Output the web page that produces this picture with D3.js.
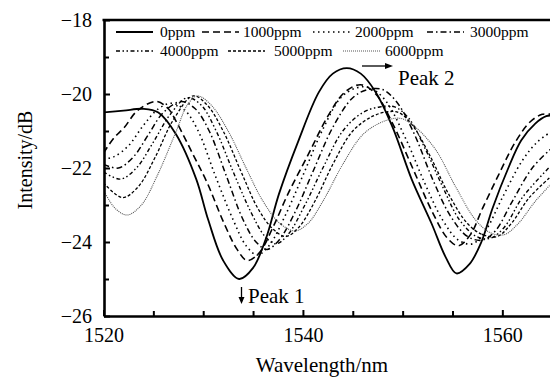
<!DOCTYPE html>
<html>
<head>
<meta charset="utf-8">
<script src="https://cdn.jsdelivr.net/npm/d3@7"></script>
<style>
  body { margin: 0; background: #fff; }
  svg { display: block; }
  text { font-family: "Liberation Serif", "Times New Roman", serif; fill: #000; }
</style>
</head>
<body>
<svg></svg>
<script>
// concentrations (legend labels)
const seriesNames = ["0ppm", "1000ppm", "2000ppm", "3000ppm", "4000ppm", "5000ppm", "6000ppm"];

// [wavelength nm, intensity dB]
const ppm0 = [[1520,-20.5],[1522,-20.45],[1524,-20.4],[1525.5,-20.5],[1527.3,-21.1],[1529.3,-22.3],[1530.5,-23.4],[1532,-24.5],[1533.6,-25.0],[1535,-24.7],[1536.3,-23.9],[1537.6,-22.7],[1539.5,-21.3],[1541.6,-19.95],[1543,-19.45],[1544.4,-19.3],[1545.8,-19.45],[1547.3,-19.95],[1549,-20.9],[1550.9,-22.3],[1552.9,-23.5],[1554.3,-24.4],[1555.4,-24.85],[1556.7,-24.6],[1557.9,-24.0],[1559,-23.1],[1560.6,-22.0],[1561.9,-21.25],[1563.3,-20.8],[1564.4,-20.6],[1565,-20.58]];
const ppm1000 = [[1520,-21.6],[1521,-21.2],[1522.1,-20.9],[1523.4,-20.45],[1525.3,-20.2],[1526.5,-20.4],[1527.4,-20.8],[1529.1,-21.7],[1530.4,-22.4],[1532.1,-23.5],[1533.4,-24.2],[1534.4,-24.5],[1535.6,-24.3],[1537,-23.6],[1538.5,-22.7],[1540.6,-21.6],[1542.5,-20.6],[1544.2,-19.95],[1545.8,-19.75],[1547.3,-20.0],[1549,-20.8],[1551,-22.0],[1553,-23.2],[1554.5,-23.9],[1555.6,-24.1],[1556.8,-23.8],[1558,-23.1],[1559.6,-22.2],[1561.3,-21.3],[1562.8,-20.75],[1564,-20.55],[1565,-20.55]];
const ppm2000 = [[1520,-21.75],[1521,-21.7],[1522.5,-21.4],[1524,-20.85],[1525.5,-20.4],[1526.9,-20.25],[1528.2,-20.45],[1529.5,-21.0],[1531.2,-22.2],[1533,-23.4],[1534.3,-24.1],[1535.4,-24.35],[1536.6,-24.1],[1538.2,-23.3],[1540,-22.2],[1542,-20.95],[1543.8,-20.1],[1545.2,-19.85],[1546.6,-19.82],[1548.2,-20.15],[1550.3,-21.2],[1552.2,-22.4],[1554,-23.4],[1555.6,-23.95],[1557,-24.05],[1558.3,-23.7],[1560,-22.8],[1562,-21.8],[1563.5,-21.3],[1565,-21.0]];
const ppm3000 = [[1520,-21.9],[1521.5,-22.0],[1523,-21.7],[1524.5,-21.1],[1526,-20.5],[1527.8,-20.2],[1529.2,-20.4],[1530.6,-21.0],[1532.3,-22.2],[1534,-23.4],[1535.3,-24.0],[1536.4,-24.2],[1537.6,-23.95],[1539.2,-23.2],[1541,-22.1],[1543,-20.9],[1545,-20.1],[1546.5,-19.88],[1548,-19.88],[1549.5,-20.25],[1551.2,-21.1],[1553,-22.3],[1554.8,-23.3],[1556.5,-23.85],[1558,-23.95],[1559.3,-23.7],[1561,-22.9],[1563,-22.0],[1565,-21.45]];
const ppm4000 = [[1520,-22.1],[1521.7,-22.3],[1523.3,-22.0],[1525,-21.3],[1526.7,-20.55],[1528.4,-20.1],[1529.8,-20.3],[1531.3,-21.0],[1533,-22.1],[1534.8,-23.2],[1536.2,-23.85],[1537.3,-24.05],[1538.5,-23.8],[1540.2,-23.0],[1542,-22.0],[1544,-21.0],[1546,-20.5],[1547.7,-20.35],[1549.2,-20.35],[1550.6,-20.65],[1552.3,-21.5],[1554,-22.5],[1555.7,-23.4],[1557.4,-23.85],[1558.8,-23.9],[1560.2,-23.6],[1562,-22.8],[1565,-21.9]];
const ppm5000 = [[1520,-22.4],[1521.9,-22.8],[1523.5,-22.5],[1525.2,-21.7],[1527,-20.7],[1529,-20.05],[1530.4,-20.3],[1532,-21.0],[1533.8,-22.1],[1535.5,-23.1],[1537,-23.65],[1538.3,-23.85],[1539.6,-23.6],[1541.2,-22.9],[1543,-21.9],[1545,-21.0],[1547,-20.6],[1548.5,-20.48],[1549.6,-20.5],[1551,-20.85],[1552.8,-21.7],[1554.6,-22.7],[1556.5,-23.5],[1558,-23.8],[1559.5,-23.85],[1560.9,-23.5],[1562.7,-22.8],[1565,-22.2]];
const ppm6000 = [[1520,-22.6],[1521.2,-23.1],[1522.4,-23.27],[1523.8,-23.0],[1525.4,-22.2],[1527.3,-21.0],[1528.4,-20.3],[1529.4,-20.05],[1530.8,-20.3],[1532.5,-21.0],[1534.3,-22.0],[1536,-22.9],[1537.7,-23.5],[1539.2,-23.7],[1540.5,-23.5],[1542,-22.9],[1544,-21.9],[1546,-21.1],[1548,-20.75],[1549.8,-20.66],[1551.3,-20.9],[1553.3,-21.5],[1555.3,-22.5],[1557.3,-23.4],[1558.8,-23.75],[1560.2,-23.8],[1561.6,-23.5],[1563.3,-22.9],[1565,-22.4]];

const xTicks = [1520, 1540, 1560];
const xMinorTicks = [1525, 1530, 1535, 1545, 1550, 1555];
const yTicks = [-18, -20, -22, -24, -26];
const yMinorTicks = [-19, -21, -23, -25];

const width = 550, height = 378;
const svg = d3.select("svg").attr("width", width).attr("height", height);

const x = d3.scaleLinear().domain([1520, 1565]).range([103.5, 552.2]);
const y = d3.scaleLinear().domain([-26, -18]).range([316, 20]);

// line styles per series
const styles = [
  {dash: null, w: 1.8, c: "#000"},
  {dash: "7,4", w: 1.6, c: "#000"},
  {dash: "1.5,3.5", w: 1.6, c: "#000"},
  {dash: "6,3,1.5,3", w: 1.5, c: "#000"},
  {dash: "4,2.5,1.5,2.5,1.5,2.5", w: 1.4, c: "#000"},
  {dash: "3,2", w: 1.3, c: "#000"},
  {dash: "1,1", w: 1.1, c: "#555"}
];

const allSeries = [ppm0, ppm1000, ppm2000, ppm3000, ppm4000, ppm5000, ppm6000];

svg.append("clipPath").attr("id", "plot")
  .append("rect").attr("x", 104).attr("y", 20).attr("width", 446).attr("height", 296);

const line = d3.line()
  .x(d => x(d[0]))
  .y(d => y(d[1]))
  .curve(d3.curveCatmullRom.alpha(0.5));

svg.append("g").attr("clip-path", "url(#plot)")
  .selectAll("path")
  .data(allSeries)
  .enter()
  .append("path")
  .attr("d", line)
  .attr("fill", "none")
  .attr("stroke", (d, i) => styles[i].c)
  .attr("stroke-width", (d, i) => styles[i].w)
  .attr("stroke-dasharray", (d, i) => styles[i].dash);

// axes, ticks pointing inward
svg.append("g").attr("transform", "translate(0,316)")
  .call(d3.axisBottom(x).tickValues(xTicks).tickSize(-6).tickSizeOuter(0).tickPadding(12).tickFormat(d3.format("d")));
svg.append("g").attr("transform", "translate(0,316)")
  .call(d3.axisBottom(x).tickValues(xMinorTicks).tickSize(-5).tickSizeOuter(0).tickFormat(""))
  .select(".domain").remove();

svg.append("g").attr("transform", "translate(104,0)")
  .call(d3.axisLeft(y).tickValues(yTicks).tickSize(-6).tickSizeOuter(0).tickPadding(12)
    .tickFormat(d => "\u2212" + Math.abs(d)));
svg.append("g").attr("transform", "translate(104,0)")
  .call(d3.axisLeft(y).tickValues(yMinorTicks).tickSize(-5).tickSizeOuter(0).tickFormat(""))
  .select(".domain").remove();

svg.selectAll(".domain").attr("stroke-width", 2.6).attr("stroke", "#000");
svg.selectAll(".tick line").attr("stroke-width", 2).attr("stroke", "#000");
svg.selectAll(".tick text").attr("font-size", 20).attr("font-family", "Liberation Serif");

// top frame line
svg.append("line")
  .attr("x1", x(1520) - 1).attr("x2", width)
  .attr("y1", y(-18)).attr("y2", y(-18))
  .attr("stroke", "#000").attr("stroke-width", 2.6);

// axis titles
svg.append("text")
  .attr("x", 322).attr("y", 372)
  .attr("text-anchor", "middle").attr("font-size", 21)
  .text("Wavelength/nm");
svg.append("text")
  .attr("transform", "translate(32,160) rotate(-90)")
  .attr("text-anchor", "middle").attr("font-size", 20)
  .text("Intensity/dB");

// legend
const legendPos = [
  {lx: 116, tx: 160, row: 32},
  {lx: 202, tx: 243, row: 32},
  {lx: 313, tx: 355, row: 32},
  {lx: 427, tx: 470, row: 32},
  {lx: 116, tx: 160, row: 51},
  {lx: 228, tx: 274, row: 51},
  {lx: 343, tx: 385, row: 51}
];
const legend = svg.append("g").selectAll("g")
  .data(seriesNames)
  .enter()
  .append("g");
legend.append("line")
  .attr("x1", (d, i) => legendPos[i].lx)
  .attr("x2", (d, i) => legendPos[i].lx + 37)
  .attr("y1", (d, i) => legendPos[i].row)
  .attr("y2", (d, i) => legendPos[i].row)
  .attr("stroke", (d, i) => styles[i].c)
  .attr("stroke-width", (d, i) => styles[i].w)
  .attr("stroke-dasharray", (d, i) => styles[i].dash);
legend.append("text")
  .attr("x", (d, i) => legendPos[i].tx)
  .attr("y", (d, i) => legendPos[i].row + 5)
  .attr("font-size", 15.5)
  .text(d => d);

// peak annotations
const arrowHead = (g, x0, y0, dir) => {
  const pts = dir === "down"
    ? [[x0 - 3, y0 - 7], [x0 + 3, y0 - 7], [x0, y0]]
    : [[x0 - 8, y0 - 3], [x0 - 8, y0 + 3], [x0, y0]];
  g.append("polygon").attr("points", pts.map(p => p.join(",")).join(" ")).attr("fill", "#000");
};
const ann = svg.append("g");
ann.append("line").attr("x1", 241.5).attr("x2", 241.5).attr("y1", 287).attr("y2", 298)
  .attr("stroke", "#000").attr("stroke-width", 1.3);
arrowHead(ann, 241.5, 304, "down");
ann.append("text").attr("x", 248).attr("y", 303).attr("font-size", 21).text("Peak 1");

ann.append("line").attr("x1", 362).attr("x2", 386).attr("y1", 66).attr("y2", 66)
  .attr("stroke", "#000").attr("stroke-width", 1.3);
arrowHead(ann, 393, 66, "right");
ann.append("text").attr("x", 398).attr("y", 85).attr("font-size", 21).text("Peak 2");
</script>
</body>
</html>
